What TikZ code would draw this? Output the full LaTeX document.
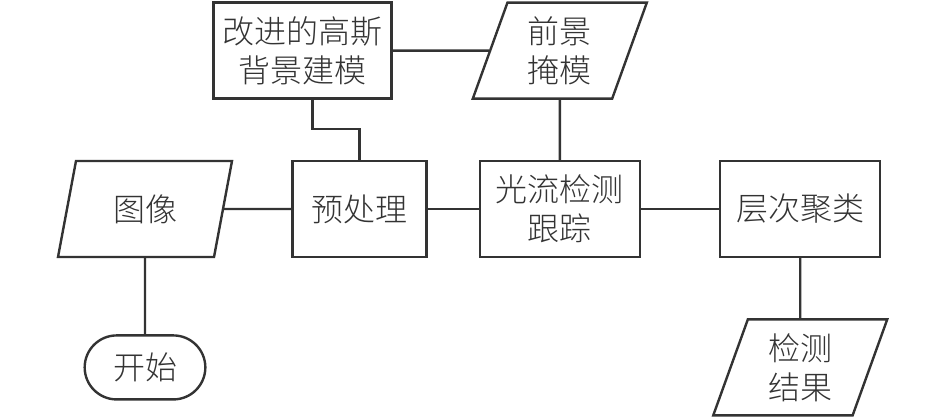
\documentclass[tikz,border=0pt]{standalone}
\usepackage{fontspec}
\newfontfamily\cjk{Noto Sans CJK SC Light}
\usetikzlibrary{shapes,positioning}

\colorlet{ink}{black!80}
\tikzset{
  every node/.style={font=\cjk\fontsize{16pt}{19.5pt}\selectfont, text=ink},
  box/.style={draw=ink, line width=1.2pt, rectangle, minimum height=48pt, align=center},
  io/.style={draw=ink, line width=1.2pt, trapezium, trapezium left angle=67,
    trapezium right angle=113, trapezium stretches body=true,
    minimum width=87pt, minimum height=48pt, align=center},
  term/.style={draw=ink, line width=1.2pt, rounded rectangle,
    minimum width=67pt, minimum height=32pt},
  link/.style={draw=ink, line width=1.2pt}
}

\begin{document}
\begin{tikzpicture}[x=0.5pt, y=-0.5pt]
  \useasboundingbox (0,0) rectangle (945,419);

  \node[io] (img) at (145,209) {图像};
  \node[box, minimum width=67pt, right = 33.5pt of img] (pre) {预处理};
  \node[box, minimum width=80pt, right = 25.5pt of pre] (flow) {光流检测\\跟踪};
  \node[box, minimum width=80pt, right = 39pt of flow] (clus) {层次聚类};
  \node[io, above = 30pt of flow] (mask) {前景\\掩模};
  \node[box, minimum width=89pt, left = 48pt of mask] (gauss) {改进的高斯\\背景建模};
  \node[term, below = 38pt of img] (start) {开始};
  \node[io, below = 30pt of clus] (result) {检测\\结果};

  \draw[link] (start) -- (img);
  \draw[link] (img) -- (pre);
  \draw[link] (pre) -- (flow);
  \draw[link] (flow) -- (clus);
  \draw[link] (clus) -- (result);
  \draw[link] (mask) -- (flow);
  \draw[link] (gauss) -- (mask);
  \draw[link] ([xshift=5pt]gauss.south) -- ++(0,-14.5pt) -| (pre.north);

\end{tikzpicture}
\end{document}
